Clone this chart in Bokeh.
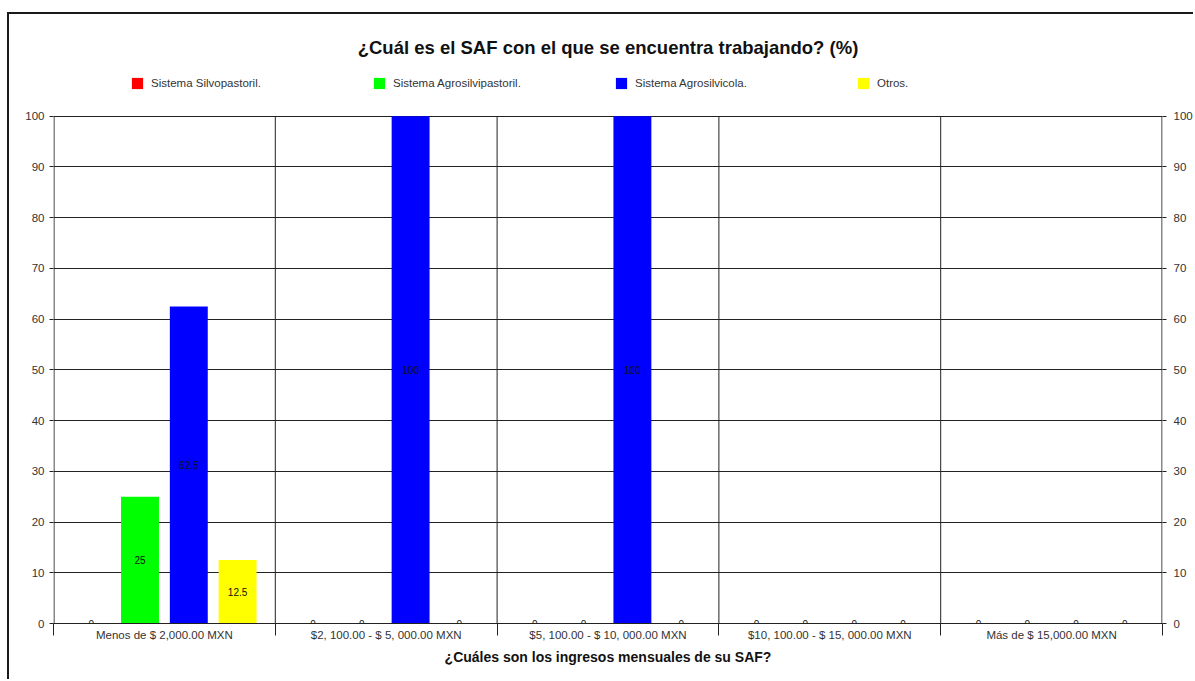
from bokeh.plotting import figure
from bokeh.models import ColumnDataSource, Range1d, FixedTicker, LinearAxis, Legend, LegendItem
from bokeh.embed import file_html
from bokeh.resources import INLINE
from bokeh.core.properties import value

title_text = "¿Cuál es el SAF con el que se encuentra trabajando? (%)"
x_title = "¿Cuáles son los ingresos mensuales de su SAF?"
categories = [
    "Menos de $ 2,000.00 MXN",
    "$2, 100.00 - $ 5, 000.00 MXN",
    "$5, 100.00 - $ 10, 000.00 MXN",
    "$10, 100.00 - $ 15, 000.00 MXN",
    "Más de $ 15,000.00 MXN",
]
series_names = ["Sistema Silvopastoril.", "Sistema Agrosilvipastoril.", "Sistema Agrosilvicola.", "Otros."]
silvopastoril = [0, 0, 0, 0, 0]
agrosilvipastoril = [25, 0, 0, 0, 0]
agrosilvicola = [62.5, 100, 100, 0, 0]
otros = [12.5, 0, 0, 0, 0]
series_values = [silvopastoril, agrosilvipastoril, agrosilvicola, otros]
colors = ["#FF0000", "#00FF00", "#0000FF", "#FFFF00"]
y_ticks = list(range(0, 101, 10))
y_max = 100

FONT = "Liberation Sans"
n = len(categories)
centers = [i + 0.5 for i in range(n)]
bounds = list(range(n + 1))

# extra headroom above 100 holds the legend inside the frame
p = figure(width=1186, height=667, x_range=Range1d(0, n), y_range=Range1d(0, y_max * 1.1),
           output_backend="svg", toolbar_location=None,
           min_border_left=44, min_border_right=33, min_border_top=51, min_border_bottom=58,
           title=title_text)
p.styles = {"border-left": "2px solid #1a1a1a", "border-top": "2px solid #1a1a1a",
            "margin-left": "7px", "margin-top": "12px"}
p.outline_line_color = None
p.background_fill_color = "white"

p.title.align = "center"
p.title.text_font = FONT
p.title.text_font_size = "18.5px"
p.title.text_font_style = "bold"
p.title.text_color = "#111111"
p.title.standoff = 16

xt = FixedTicker(ticks=centers, minor_ticks=bounds)
p.xaxis.ticker = xt
p.xgrid.ticker = xt
p.xaxis.major_label_overrides = {c: lab for c, lab in zip(centers, categories)}
p.xaxis.major_tick_line_color = None
p.xaxis.major_tick_out = 0
p.xaxis.major_tick_in = 0
p.xaxis.minor_tick_out = 12
p.xaxis.minor_tick_in = 0
p.xaxis.minor_tick_line_color = "#222222"
p.xaxis.axis_line_color = "#222222"
p.xaxis.major_label_standoff = -7
p.xaxis.major_label_text_font = FONT
p.xaxis.major_label_text_font_size = "11.5px"
p.xaxis.major_label_text_color = "#333333"
p.xaxis.axis_label = x_title
p.xaxis.axis_label_text_font = FONT
p.xaxis.axis_label_text_font_size = "14px"
p.xaxis.axis_label_text_font_style = "bold"
p.xaxis.axis_label_text_color = "#111111"
p.xaxis.axis_label_standoff = 5

p.xgrid.grid_line_color = None
p.xgrid.minor_grid_line_color = None

yt = FixedTicker(ticks=y_ticks)
p.yaxis.ticker = yt
p.ygrid.ticker = yt
p.ygrid.grid_line_color = "#222222"

right_axis = LinearAxis(ticker=yt)
p.add_layout(right_axis, "right")
for ax in [p.yaxis[0], right_axis]:
    ax.axis_line_color = None
    ax.major_tick_out = 4
    ax.major_tick_in = 0
    ax.minor_tick_line_color = None
    ax.major_tick_line_color = "#222222"
    ax.major_label_text_font = FONT
    ax.major_label_text_font_size = "11.5px"
    ax.major_label_text_color = "#333333"
right_axis.major_label_standoff = 7
p.yaxis[0].major_label_standoff = 5

# category separators and side lines, limited to the 0-100 plot area
inner = bounds[1:-1]
p.segment(x0=inner, y0=[0] * len(inner), x1=inner, y1=[y_max] * len(inner),
          line_color="#222222", line_width=1, level="underlay")
edges = [bounds[0], bounds[-1]]
p.segment(x0=edges, y0=[0, 0], x1=edges, y1=[y_max, y_max],
          line_color="#888888", line_width=3, level="underlay")

offsets = [-0.33, -0.11, 0.11, 0.33]
bar_w = 0.171
renderers = []
for vals, col, off in zip(series_values, colors, offsets):
    src = ColumnDataSource(dict(
        x=[c + off for c in centers],
        top=vals,
        ymid=[v / 2 for v in vals],
        lab=[f"{v:g}" for v in vals],
    ))
    r = p.vbar(x="x", top="top", width=bar_w, bottom=0, source=src, fill_color=col, line_color=None)
    renderers.append(r)
    p.text(x="x", y="ymid", text="lab", source=src, text_align="center", text_baseline="middle",
           text_font=value(FONT), text_font_size="10px", text_color="#111111")

legend = Legend(items=[LegendItem(label=nm, renderers=[r]) for nm, r in zip(series_names, renderers)],
                orientation="horizontal", location=(77, 533),
                glyph_width=14, glyph_height=14, label_height=14, label_width=221,
                spacing=0, padding=0, margin=0, label_standoff=7,
                border_line_alpha=0, background_fill_alpha=0,
                label_text_font=FONT, label_text_font_size="11.5px", label_text_color="#333333")
p.add_layout(legend, "center")

open("out.html", "w").write(file_html(p, INLINE))
